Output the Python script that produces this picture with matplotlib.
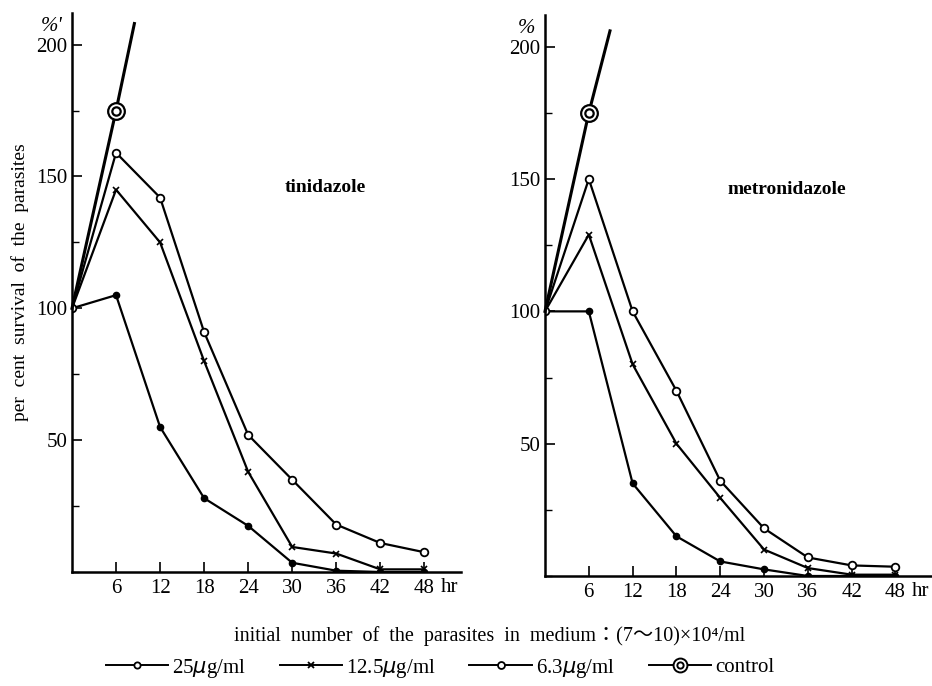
import matplotlib.pyplot as plt
from matplotlib.lines import Line2D
from matplotlib.legend_handler import HandlerTuple
from matplotlib.ticker import MultipleLocator

plt.rcParams['font.family'] = ['Liberation Serif', 'Noto Sans CJK JP', 'DejaVu Serif']

# time points (hr)
hours = [0, 6, 12, 18, 24, 30, 36, 42, 48]

# tinidazole
tini_25 = [100, 105, 55, 28, 17.5, 3.5, 0.5, 0, 0]
tini_12 = [100, 145, 125, 80, 38, 9.5, 7, 1, 1]
tini_6 = [100, 159, 142, 91, 52, 35, 18, 11, 7.5]

# metronidazole
metro_25 = [100, 100, 35, 15, 5.5, 2.5, 0, 0, 0]
metro_12 = [100, 129, 80, 50, 29.5, 10, 3, 0.5, 0.5]
metro_6 = [100, 150, 100, 70, 36, 18, 7, 4, 3.5]

# control (line runs off the top of the axis)
ctrl_hours_tini = [0, 6, 8.5]
ctrl_tini = [100, 175, 208]
ctrl_hours_metro = [0, 6, 8.9]
ctrl_metro = [100, 175, 206]

xticks = [6, 12, 18, 24, 30, 36, 42, 48]
legend_labels = ['25$\\mu$g/ml', '12.5$\\mu$g/ml', '6.3$\\mu$g/ml', 'control']

fig = plt.figure(figsize=(9.32, 6.86), dpi=100)
ax1 = fig.add_axes([72 / 932, 1 - 572 / 686, 389 / 932, 559 / 686])
ax2 = fig.add_axes([545 / 932, 1 - 576 / 686, 387 / 932, 561 / 686])


def draw(ax, d25, d12, d6, ch, cv, name, name_x, pct):
    ax.plot(hours, d25, color='black', lw=1.6, marker='o', ms=4.5)
    ax.plot(hours, d12, color='black', lw=1.6, marker='x', ms=5, mew=1.2)
    ax.plot(hours, d6, color='black', lw=1.6, marker='o', ms=5.5,
            mfc='white', mew=1.3)
    ax.plot(ch, cv, color='black', lw=2.2, clip_on=False)
    ax.plot(ch[1], cv[1], marker='o', ms=12, mfc='white', mec='black', mew=1.6)
    ax.plot(ch[1], cv[1], marker='o', ms=6, mfc='white', mec='black', mew=1.6)

    ax.set_xlim(0, 53)
    ax.set_ylim(0, 212)
    for s in ['top', 'right']:
        ax.spines[s].set_visible(False)
    for s in ['left', 'bottom']:
        ax.spines[s].set_linewidth(1.8)
    ax.set_xticks(xticks)
    ax.set_xticklabels([str(t) for t in xticks])
    ax.yaxis.set_major_locator(MultipleLocator(50))
    ax.yaxis.set_minor_locator(MultipleLocator(25))
    ax.set_yticks([50, 100, 150, 200])
    ax.tick_params(direction='in', length=7, width=1.2, labelsize=15)
    ax.tick_params(which='minor', direction='in', length=5, width=1.0)
    ax.tick_params(axis='x', pad=5)
    ax.text(50.2, -6.0, 'hr', fontsize=15, ha='left', va='center',
            clip_on=False)
    ax.text(-1.3, 207, pct, fontsize=15, ha='right', va='center',
            style='italic')
    ax.text(name_x, 146, name, fontsize=14, ha='left', va='center',
            fontweight='bold')


draw(ax1, tini_25, tini_12, tini_6, ctrl_hours_tini, ctrl_tini,
     'tinidazole', 29, "%'")
draw(ax2, metro_25, metro_12, metro_6, ctrl_hours_metro, ctrl_metro,
     'metronidazole', 25, '%')

fig.text(20 / 932, 1 - 282 / 686, 'per  cent  survival  of  the  parasites',
         rotation=90, ha='center', va='center', fontsize=14)
fig.text(490 / 932, 1 - 636 / 686,
         'initial  number  of  the  parasites  in  medium\uff1a(7\uff5e10)\u00d710\u2074/ml',
         ha='center', va='center', fontsize=14.5)

h25 = Line2D([], [], color='black', lw=1.4, marker='o', ms=4.5,
             mfc='white', mew=1.3)
h12 = Line2D([], [], color='black', lw=1.4, marker='x', ms=5, mew=1.3)
h6 = Line2D([], [], color='black', lw=1.4, marker='o', ms=5,
            mfc='white', mew=1.3)
hc_outer = Line2D([], [], color='black', lw=1.4, marker='o', ms=10,
                  mfc='white', mew=1.4)
hc_inner = Line2D([], [], ls='none', marker='o', ms=4.5, mfc='white',
                  mec='black', mew=1.4)
fig.legend([h25, h12, h6, (hc_outer, hc_inner)], legend_labels,
           loc='center', bbox_to_anchor=(440 / 932, 1 - 668 / 686),
           ncol=4, frameon=False, fontsize=15, handlelength=3.0,
           handletextpad=0.2, columnspacing=1.6,
           handler_map={tuple: HandlerTuple(ndivide=1)})

fig.savefig('out.png', dpi=100)
